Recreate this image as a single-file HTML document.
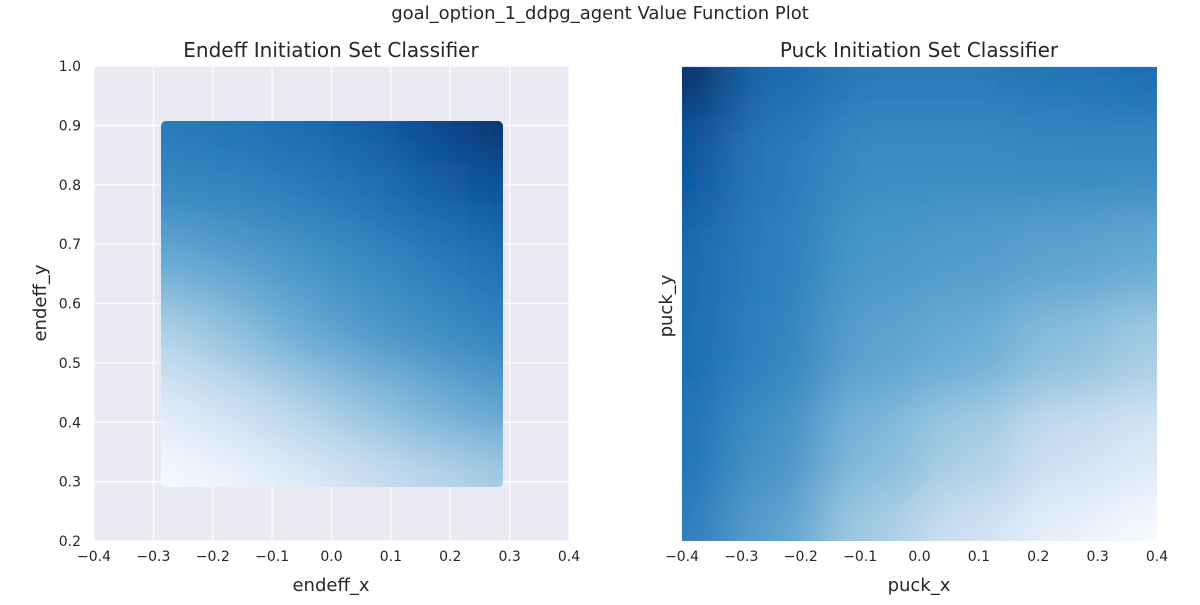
<!DOCTYPE html>
<html><head><meta charset="utf-8">
<style>
body{margin:0;background:#fff;font-family:"Liberation Sans","DejaVu Sans",sans-serif;}
svg text{font-family:"DejaVu Sans","Liberation Sans",sans-serif;fill:#262626;}
</style></head>
<body>
<svg id="fig" width="1200" height="600">
<defs>
<filter id="blur" x="-10%" y="-10%" width="120%" height="120%"><feGaussianBlur stdDeviation="28"/></filter>
<clipPath id="clipL"><rect x="161" y="121" width="342" height="366" rx="5"/></clipPath>
<clipPath id="clipR"><rect x="682" y="67" width="475" height="474"/></clipPath>
</defs>
<text x="600" y="19" font-size="18" text-anchor="middle">goal_option_1_ddpg_agent Value Function Plot</text>
<g id="root"></g>
</svg>
<script>
const xTicksL = [-0.4,-0.3,-0.2,-0.1,0.0,0.1,0.2,0.3,0.4];
const yTicksL = [0.2,0.3,0.4,0.5,0.6,0.7,0.8,0.9,1.0];
const xTicksR = [-0.4,-0.3,-0.2,-0.1,0.0,0.1,0.2,0.3,0.4];
// left heat values, rows top (y=0.9) to bottom (y=0.3), cols x=-0.28..0.28
const leftValues = [
 [.72,.74,.77,.82,.90,1.0],
 [.65,.67,.70,.74,.80,.85],
 [.50,.55,.60,.65,.70,.75],
 [.30,.40,.50,.58,.63,.68],
 [.12,.20,.30,.40,.48,.55],
 [.00,.05,.12,.20,.28,.35]];
// right heat values, rows top to bottom, cols x=-0.4..0.4
const rightValues = [
 [1.0,.78,.72,.72,.74,.76],
 [.85,.72,.65,.65,.66,.66],
 [.78,.70,.60,.58,.55,.52],
 [.76,.68,.55,.50,.42,.35],
 [.74,.62,.45,.35,.22,.15],
 [.70,.55,.35,.20,.08,.00]];

const blues=[[247,251,255],[222,235,247],[198,219,239],[158,202,225],[107,174,214],[66,146,198],[33,113,181],[8,81,156],[8,48,107]];
function cmap(v){v=Math.max(0,Math.min(1,v))*8;const i=Math.min(7,Math.floor(v)),t=v-i;const a=blues[i],b=blues[i+1];
 return `rgb(${a.map((c,k)=>Math.round(c+(b[k]-c)*t)).join(',')})`;}
const NS="http://www.w3.org/2000/svg";
const root=document.getElementById('root');
function el(tag,attrs,parent){const e=document.createElementNS(NS,tag);for(const k in attrs)e.setAttribute(k,attrs[k]);(parent||root).appendChild(e);return e;}

function axis(x0,x1,y0,y1,xmin,xmax,ymin,ymax){
 return {sx:v=>x0+(v-xmin)/(xmax-xmin)*(x1-x0), sy:v=>y1-(v-ymin)/(ymax-ymin)*(y1-y0)};
}
// LEFT
const L=axis(94,569,66,541,-0.4,0.4,0.2,1.0);
const bgL=el('rect',{x:94,y:66,width:475,height:475,fill:'#eaeaf2'});


xTicksL.forEach(t=>{const g=el('line',{x1:L.sx(t),x2:L.sx(t),y1:66,y2:541,stroke:'#fff','stroke-width':1.2});
 
 const tx=el('text',{x:L.sx(t),y:561,'font-size':14,'text-anchor':'middle'});tx.textContent=t.toFixed(1).replace('-','−');
 });
yTicksL.forEach(t=>{const g=el('line',{x1:94,x2:569,y1:L.sy(t),y2:L.sy(t),stroke:'#fff','stroke-width':1.2});
 
 const tx=el('text',{x:81,y:L.sy(t)+5,'font-size':14,'text-anchor':'end'});tx.textContent=t.toFixed(1);
 });
function heat(vals,xa,xb,ya,yb,sx,sy,clip,name){
 const g=el('g',{'clip-path':`url(#${clip})`});const gi=el('g',{filter:'url(#blur)'},g);
 const nr=vals.length,nc=vals[0].length;const pad=40;
 vals.forEach((row,r)=>row.forEach((v,c)=>{
  let X0=sx(xa+(xb-xa)*c/(nc-1)-(xb-xa)/(nc-1)/2),X1=sx(xa+(xb-xa)*c/(nc-1)+(xb-xa)/(nc-1)/2);
  let Y0=sy(yb-(yb-ya)*r/(nr-1)+(yb-ya)/(nr-1)/2),Y1=sy(yb-(yb-ya)*r/(nr-1)-(yb-ya)/(nr-1)/2);
  if(c==0)X0-=pad;if(c==nc-1)X1+=pad;if(r==0)Y0-=pad;if(r==nr-1)Y1+=pad;
  const e=el('rect',{x:X0,y:Y0,width:X1-X0+1,height:Y1-Y0+1,fill:cmap(v)},gi);
  
 }));
}
heat(leftValues,-0.285,0.285,0.3,0.9,L.sx,L.sy,'clipL','left-heat-cell');
let t;
t=el('text',{x:331,y:57,'font-size':20,'text-anchor':'middle'});t.textContent='Endeff Initiation Set Classifier';

t=el('text',{x:331,y:591,'font-size':18,'text-anchor':'middle'});t.textContent='endeff_x';

t=el('text',{x:0,y:0,'font-size':18,'text-anchor':'middle',transform:'translate(46,303) rotate(-90)'});t.textContent='endeff_y';


// RIGHT
const R=axis(682,1157,67,541,-0.4,0.4,0,1);
const bgR=el('rect',{x:682,y:66,width:475,height:475,fill:'#eaeaf2'});


heat(rightValues,-0.4,0.4,0,1,R.sx,R.sy,'clipR','right-heat-cell');
xTicksR.forEach(tk=>{const tx=el('text',{x:R.sx(tk),y:561,'font-size':14,'text-anchor':'middle'});tx.textContent=tk.toFixed(1).replace('-','−');
 });
t=el('text',{x:919,y:57,'font-size':20,'text-anchor':'middle'});t.textContent='Puck Initiation Set Classifier';

t=el('text',{x:919,y:591,'font-size':18,'text-anchor':'middle'});t.textContent='puck_x';

t=el('text',{x:0,y:0,'font-size':18,'text-anchor':'middle',transform:'translate(672,306) rotate(-90)'});t.textContent='puck_y';

</script>
</body></html>
